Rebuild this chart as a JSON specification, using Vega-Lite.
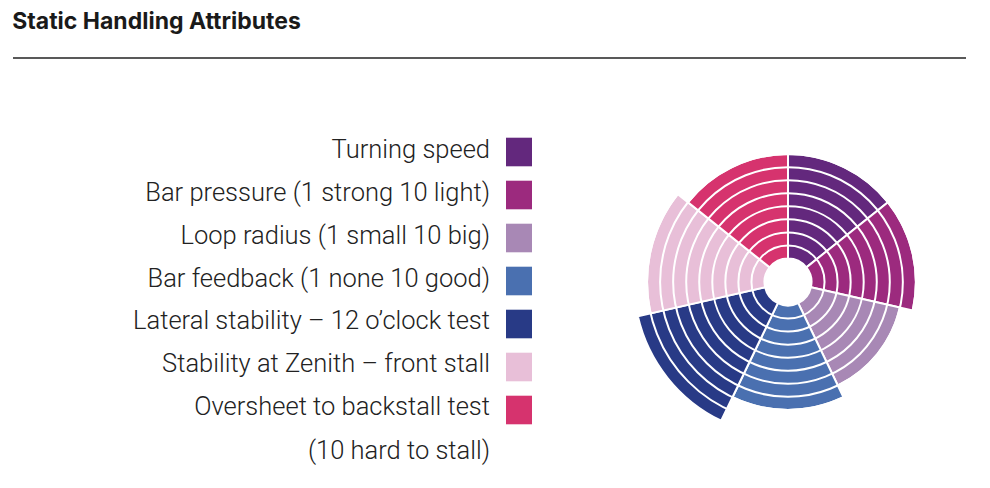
{
  "$schema": "https://vega.github.io/schema/vega-lite/v6.json",
  "background": "white",
  "padding": {"left": 12, "top": 11, "right": 0, "bottom": 0},
  "bounds": "flush",
  "title": {"text": "Static Handling Attributes", "anchor": "start", "font": "Inter", "fontSize": 23, "fontWeight": "bold", "color": "#1a1a1a", "offset": 0},
  "config": {"view": {"stroke": null}, "font": "Roboto"},
  "datasets": {
    "scores": [
      {"attribute": "Turning speed", "rank": 1, "score": 8},
      {"attribute": "Bar pressure (1 strong 10 light)", "rank": 2, "score": 8},
      {"attribute": "Loop radius (1 small 10 big)", "rank": 3, "score": 7},
      {"attribute": "Bar feedback (1 none 10 good)", "rank": 4, "score": 8},
      {"attribute": "Lateral stability – 12 o’clock test", "rank": 5, "score": 10},
      {"attribute": "Stability at Zenith – front stall", "rank": 6, "score": 9},
      {"attribute": "Oversheet to backstall test\n(10 hard to stall)", "rank": 7, "score": 8}
    ],
    "rings": [
      {"level": 1}, {"level": 2}, {"level": 3}, {"level": 4}, {"level": 5},
      {"level": 6}, {"level": 7}, {"level": 8}, {"level": 9}
    ]
  },
  "vconcat": [
    {
      "width": 953,
      "height": 24,
      "data": {"name": "scores"},
      "transform": [{"aggregate": [{"op": "count", "as": "n"}]}],
      "mark": {"type": "rule", "color": "#222222", "strokeWidth": 1.5},
      "encoding": {
        "y": {"datum": 0, "type": "quantitative", "scale": {"domain": [0, 1]}, "axis": null}
      }
    },
    {
      "spacing": 104,
      "bounds": "flush",
      "hconcat": [
        {
          "width": 506,
          "height": 328,
          "data": {"name": "scores"},
          "encoding": {
            "y": {"field": "attribute", "type": "nominal", "sort": null, "scale": {"type": "point", "padding": 0.814}, "axis": null},
            "x": {"datum": 1, "type": "quantitative", "scale": {"domain": [0, 1]}, "axis": null}
          },
          "layer": [
            {
              "mark": {"type": "text", "align": "right", "baseline": "alphabetic", "dx": -29, "dy": 5.5, "font": "Roboto", "fontSize": 25.5, "fontWeight": 300, "color": "#222222", "lineBreak": "\n", "lineHeight": 43.4},
              "encoding": {"text": {"field": "attribute"}}
            },
            {
              "mark": {"type": "point", "shape": "M-1,-1.1H1V1.1H-1Z", "filled": true, "size": 676, "opacity": 1},
              "encoding": {
                "color": {
                  "field": "attribute", "type": "nominal",
                  "scale": {
                    "domain": ["Turning speed", "Bar pressure (1 strong 10 light)", "Loop radius (1 small 10 big)", "Bar feedback (1 none 10 good)", "Lateral stability – 12 o’clock test", "Stability at Zenith – front stall", "Oversheet to backstall test\n(10 hard to stall)"],
                    "range": ["#63287d", "#9c2a7e", "#a888b5", "#4a70b0", "#283a86", "#e8bfd8", "#d6336e"]
                  },
                  "legend": null
                }
              }
            }
          ]
        },
        {
          "width": 330,
          "height": 330,
          "layer": [
            {
              "data": {"name": "scores"},
              "transform": [
                {"aggregate": [{"op": "count", "as": "w"}], "groupby": ["attribute", "rank", "score"]},
                {"stack": "w", "groupby": [], "sort": [{"field": "rank", "order": "ascending"}], "as": ["t0", "t1"]}
              ],
              "mark": {"type": "arc", "stroke": "white", "strokeWidth": 2},
              "encoding": {
                "theta": {"field": "t0", "type": "quantitative", "stack": null, "scale": {"domain": [0, 7]}},
                "theta2": {"field": "t1"},
                "radius": {"field": "score", "type": "quantitative", "scale": {"type": "linear", "domain": [0, 10], "range": [23.5, 154]}},
                "radius2": {"datum": 0},
                "color": {
                  "field": "attribute", "type": "nominal",
                  "scale": {
                    "domain": ["Turning speed", "Bar pressure (1 strong 10 light)", "Loop radius (1 small 10 big)", "Bar feedback (1 none 10 good)", "Lateral stability – 12 o’clock test", "Stability at Zenith – front stall", "Oversheet to backstall test\n(10 hard to stall)"],
                    "range": ["#63287d", "#9c2a7e", "#a888b5", "#4a70b0", "#283a86", "#e8bfd8", "#d6336e"]
                  },
                  "legend": null
                }
              }
            },
            {
              "data": {"name": "rings"},
              "mark": {"type": "arc", "filled": false, "fill": null, "stroke": "white", "strokeWidth": 2, "theta": 0, "theta2": 6.2832},
              "encoding": {
                "radius": {"field": "level", "type": "quantitative"},
                "radius2": {"field": "level"}
              }
            }
          ]
        }
      ]
    }
  ],
  "spacing": 59
}
